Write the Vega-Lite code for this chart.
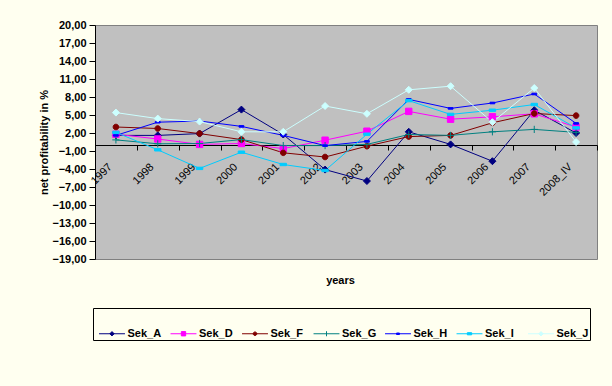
{
  "$schema": "https://vega.github.io/schema/vega-lite/v6.json",
  "autosize": "none",
  "width": 502,
  "height": 234,
  "padding": {"left": 95, "top": 25, "right": 15, "bottom": 127},
  "background": "#FFFFF0",
  "config": {
    "view": {"fill": "#C0C0C0", "stroke": "#808080", "strokeWidth": 1},
    "font": "Liberation Sans"
  },
  "data": {
    "values": [
      {"year": "1997", "series": "Sek_A", "value": 1.6},
      {"year": "1998", "series": "Sek_A", "value": 1.6},
      {"year": "1999", "series": "Sek_A", "value": 1.9},
      {"year": "2000", "series": "Sek_A", "value": 5.9},
      {"year": "2001", "series": "Sek_A", "value": 1.75},
      {"year": "2002", "series": "Sek_A", "value": -4.1},
      {"year": "2003", "series": "Sek_A", "value": -6.0},
      {"year": "2004", "series": "Sek_A", "value": 2.2},
      {"year": "2005", "series": "Sek_A", "value": 0.1},
      {"year": "2006", "series": "Sek_A", "value": -2.7},
      {"year": "2007", "series": "Sek_A", "value": 5.8},
      {"year": "2008_IV", "series": "Sek_A", "value": 2.0},
      {"year": "1997", "series": "Sek_D", "value": 1.8},
      {"year": "1998", "series": "Sek_D", "value": 1.0},
      {"year": "1999", "series": "Sek_D", "value": 0.1},
      {"year": "2000", "series": "Sek_D", "value": 0.25},
      {"year": "2001", "series": "Sek_D", "value": -0.6},
      {"year": "2002", "series": "Sek_D", "value": 0.8},
      {"year": "2003", "series": "Sek_D", "value": 2.3},
      {"year": "2004", "series": "Sek_D", "value": 5.6},
      {"year": "2005", "series": "Sek_D", "value": 4.3},
      {"year": "2006", "series": "Sek_D", "value": 4.7},
      {"year": "2007", "series": "Sek_D", "value": 5.2},
      {"year": "2008_IV", "series": "Sek_D", "value": 3.0},
      {"year": "1997", "series": "Sek_F", "value": 3.0},
      {"year": "1998", "series": "Sek_F", "value": 2.75},
      {"year": "1999", "series": "Sek_F", "value": 1.9},
      {"year": "2000", "series": "Sek_F", "value": 0.9},
      {"year": "2001", "series": "Sek_F", "value": -1.3},
      {"year": "2002", "series": "Sek_F", "value": -2.0},
      {"year": "2003", "series": "Sek_F", "value": -0.2},
      {"year": "2004", "series": "Sek_F", "value": 1.4},
      {"year": "2005", "series": "Sek_F", "value": 1.6},
      {"year": "2006", "series": "Sek_F", "value": 3.7},
      {"year": "2007", "series": "Sek_F", "value": 5.25},
      {"year": "2008_IV", "series": "Sek_F", "value": 4.9},
      {"year": "1997", "series": "Sek_G", "value": 0.85},
      {"year": "1998", "series": "Sek_G", "value": 0.2},
      {"year": "1999", "series": "Sek_G", "value": 0.25},
      {"year": "2000", "series": "Sek_G", "value": 0.9},
      {"year": "2001", "series": "Sek_G", "value": -0.1},
      {"year": "2002", "series": "Sek_G", "value": -0.1},
      {"year": "2003", "series": "Sek_G", "value": 0.1},
      {"year": "2004", "series": "Sek_G", "value": 1.75},
      {"year": "2005", "series": "Sek_G", "value": 1.6},
      {"year": "2006", "series": "Sek_G", "value": 2.2},
      {"year": "2007", "series": "Sek_G", "value": 2.6},
      {"year": "2008_IV", "series": "Sek_G", "value": 2.1},
      {"year": "1997", "series": "Sek_H", "value": 1.6},
      {"year": "1998", "series": "Sek_H", "value": 3.8},
      {"year": "1999", "series": "Sek_H", "value": 4.0},
      {"year": "2000", "series": "Sek_H", "value": 3.1},
      {"year": "2001", "series": "Sek_H", "value": 1.6},
      {"year": "2002", "series": "Sek_H", "value": -0.1},
      {"year": "2003", "series": "Sek_H", "value": 0.6},
      {"year": "2004", "series": "Sek_H", "value": 7.6},
      {"year": "2005", "series": "Sek_H", "value": 6.1},
      {"year": "2006", "series": "Sek_H", "value": 7.0},
      {"year": "2007", "series": "Sek_H", "value": 8.5},
      {"year": "2008_IV", "series": "Sek_H", "value": 3.6},
      {"year": "1997", "series": "Sek_I", "value": 2.1},
      {"year": "1998", "series": "Sek_I", "value": -0.8},
      {"year": "1999", "series": "Sek_I", "value": -3.9},
      {"year": "2000", "series": "Sek_I", "value": -1.2},
      {"year": "2001", "series": "Sek_I", "value": -3.25},
      {"year": "2002", "series": "Sek_I", "value": -4.25},
      {"year": "2003", "series": "Sek_I", "value": 1.8},
      {"year": "2004", "series": "Sek_I", "value": 7.4},
      {"year": "2005", "series": "Sek_I", "value": 5.1},
      {"year": "2006", "series": "Sek_I", "value": 5.8},
      {"year": "2007", "series": "Sek_I", "value": 6.75},
      {"year": "2008_IV", "series": "Sek_I", "value": 2.85},
      {"year": "1997", "series": "Sek_J", "value": 5.4},
      {"year": "1998", "series": "Sek_J", "value": 4.4},
      {"year": "1999", "series": "Sek_J", "value": 3.9},
      {"year": "2000", "series": "Sek_J", "value": 2.2},
      {"year": "2001", "series": "Sek_J", "value": 2.2},
      {"year": "2002", "series": "Sek_J", "value": 6.5},
      {"year": "2003", "series": "Sek_J", "value": 5.2},
      {"year": "2004", "series": "Sek_J", "value": 9.2},
      {"year": "2005", "series": "Sek_J", "value": 9.8},
      {"year": "2006", "series": "Sek_J", "value": 3.8},
      {"year": "2007", "series": "Sek_J", "value": 9.5},
      {"year": "2008_IV", "series": "Sek_J", "value": 0.5}
    ]
  },
  "encoding": {
    "x": {
      "field": "year",
      "type": "nominal",
      "sort": null,
      "scale": {"type": "band", "paddingInner": 0, "paddingOuter": 0},
      "axis": {
        "offset": -114,
        "domainColor": "#000000",
        "tickColor": "#000000",
        "tickBand": "extent",
        "tickSize": 5,
        "labelAngle": -45,
        "labelAlign": "right",
        "labelBaseline": "middle",
        "labelOffset": -6,
        "labelPadding": 15,
        "labelFont": "Liberation Sans",
        "labelFontSize": 11,
        "labelColor": "#000000",
        "grid": false,
        "title": "years",
        "titleFont": "Liberation Sans",
        "titleFontSize": 11,
        "titleFontWeight": "bold",
        "titleColor": "#000000",
        "titleX": 245,
        "titleY": 129
      }
    },
    "y": {
      "field": "value",
      "type": "quantitative",
      "scale": {"domain": [-19, 20], "nice": false, "zero": false},
      "axis": {
        "values": [-19, -16, -13, -10, -7, -4, -1, 2, 5, 8, 11, 14, 17, 20],
        "labelExpr": "replace(format(datum.value, '.2f'), '.', ',')",
        "labelFont": "Liberation Sans",
        "labelFontSize": 11,
        "labelFontWeight": "bold",
        "labelColor": "#000000",
        "labelPadding": 3,
        "tickSize": 6,
        "tickColor": "#000000",
        "domainColor": "#000000",
        "grid": false,
        "title": "net profitability in %",
        "titleFont": "Liberation Sans",
        "titleFontSize": 11,
        "titleFontWeight": "bold",
        "titleColor": "#000000",
        "titlePadding": 3
      }
    }
  },
  "layer": [
    {
      "mark": {"type": "line", "strokeWidth": 1},
      "encoding": {
        "color": {
          "field": "series",
          "type": "nominal",
          "scale": {
            "domain": ["Sek_A", "Sek_D", "Sek_F", "Sek_G", "Sek_H", "Sek_I", "Sek_J"],
            "range": ["#000080", "#FF00FF", "#800000", "#008080", "#0000FF", "#00CCFF", "#CCFFFF"]
          },
          "legend": {
            "orient": "none",
            "legendX": -2,
            "legendY": 283,
            "direction": "horizontal",
            "columns": 7,
            "gridAlign": "all",
            "title": " ",
            "titleOrient": "left",
            "titleFontSize": 11,
            "titlePadding": 2,
            "padding": 1,
            "strokeColor": "#000000",
            "symbolSize": 2304,
            "symbolOffset": -8.5,
            "symbolStrokeWidth": 1,
            "labelFont": "Liberation Sans",
            "labelFontSize": 11,
            "labelFontWeight": "bold",
            "labelColor": "#000000",
            "labelOffset": -9,
            "columnPadding": 5.5,
            "labelLimit": 100,
            "encode": {
              "symbols": {
                "update": {
                  "shape": {"signal": "datum.value == 'Sek_A' || datum.value == 'Sek_J' ? 'M-0.54,0H0.54M0,-0.09L0.09,0L0,0.09L-0.09,0Z' : datum.value == 'Sek_D' ? 'M-0.54,0H0.54M-0.09,-0.09H0.09V0.09H-0.09Z' : datum.value == 'Sek_F' ? 'M-0.54,0H0.54M-0.075,0A0.075,0.075 0 1,0 0.075,0A0.075,0.075 0 1,0 -0.075,0Z' : datum.value == 'Sek_G' ? 'M-0.54,0H0.54M0,-0.105V0.105' : datum.value == 'Sek_H' ? 'M-0.54,0H0.54M-0.06,-0.03H0.06V0.03H-0.06Z' : 'M-0.54,0H0.54M-0.09,-0.045H0.09V0.045H-0.09Z'"},
                  "fill": {"signal": "scale('color', datum.value)"},
                  "stroke": {"signal": "scale('color', datum.value)"},
                  "strokeWidth": {"value": 1},
                  "opacity": {"value": 1}
                }
              }
            }
          }
        }
      }
    },
    {
      "transform": [{"filter": {"field": "series", "equal": "Sek_A"}}],
      "mark": {"type": "point", "shape": "M0,-0.875L0.875,0L0,0.875L-0.875,0Z", "filled": true, "fill": "#000080", "stroke": "#000080", "strokeWidth": 1, "opacity": 1, "size": 64}
    },
    {
      "transform": [{"filter": {"field": "series", "equal": "Sek_D"}}],
      "mark": {"type": "point", "shape": "M-0.8,-0.8H0.8V0.8H-0.8Z", "filled": true, "fill": "#FF00FF", "stroke": "#FF00FF", "strokeWidth": 1, "opacity": 1, "size": 64}
    },
    {
      "transform": [{"filter": {"field": "series", "equal": "Sek_F"}}],
      "mark": {"type": "point", "shape": "M-0.7,0A0.7,0.7 0 1,0 0.7,0A0.7,0.7 0 1,0 -0.7,0Z", "filled": true, "fill": "#800000", "stroke": "#800000", "strokeWidth": 1, "opacity": 1, "size": 64}
    },
    {
      "transform": [{"filter": {"field": "series", "equal": "Sek_G"}}],
      "mark": {"type": "point", "shape": "M-0.9,0H0.9M0,-0.9V0.9", "filled": true, "fill": "#008080", "stroke": "#008080", "strokeWidth": 1, "opacity": 1, "size": 64}
    },
    {
      "transform": [{"filter": {"field": "series", "equal": "Sek_H"}}],
      "mark": {"type": "point", "shape": "M-0.6,-0.2H0.6V0.2H-0.6Z", "filled": true, "fill": "#0000FF", "stroke": "#0000FF", "strokeWidth": 1, "opacity": 1, "size": 64}
    },
    {
      "transform": [{"filter": {"field": "series", "equal": "Sek_I"}}],
      "mark": {"type": "point", "shape": "M-0.8,-0.3H0.8V0.3H-0.8Z", "filled": true, "fill": "#00CCFF", "stroke": "#00CCFF", "strokeWidth": 1, "opacity": 1, "size": 64}
    },
    {
      "transform": [{"filter": {"field": "series", "equal": "Sek_J"}}],
      "mark": {"type": "point", "shape": "M0,-0.875L0.875,0L0,0.875L-0.875,0Z", "filled": true, "fill": "#CCFFFF", "stroke": "#CCFFFF", "strokeWidth": 1, "opacity": 1, "size": 64}
    }
  ]
}
